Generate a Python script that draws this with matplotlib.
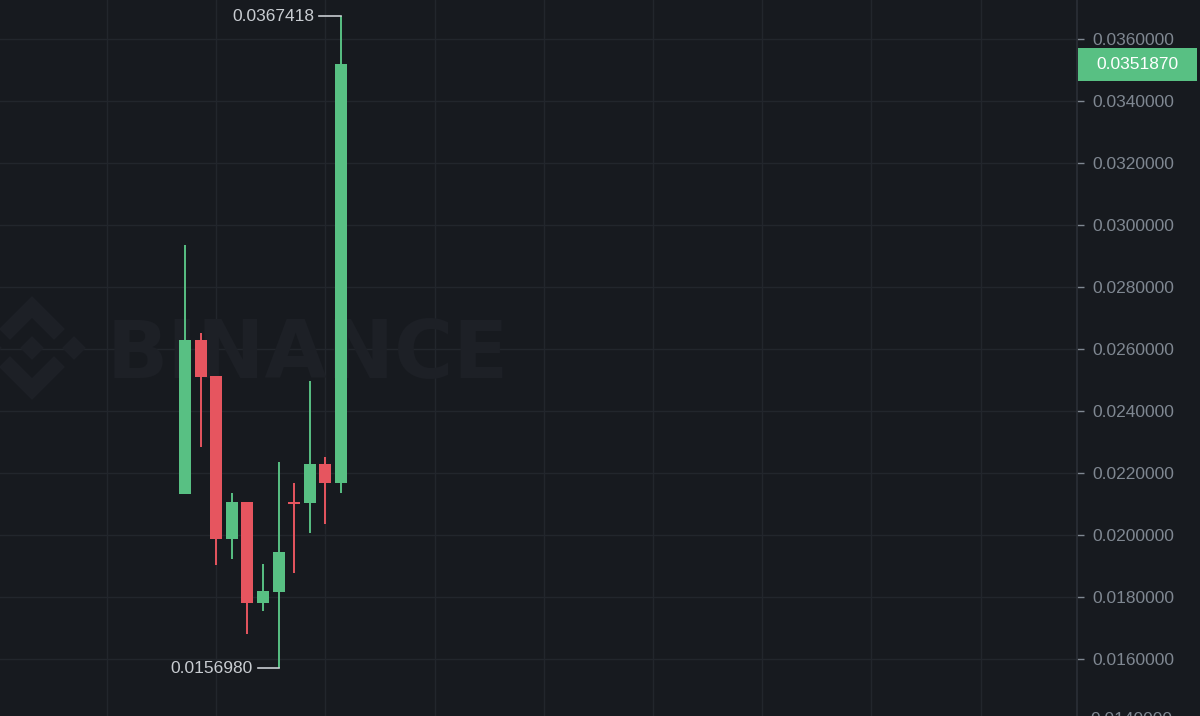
import matplotlib
matplotlib.use("Agg")
import matplotlib.pyplot as plt
import matplotlib.transforms as mtransforms
from matplotlib.patches import Rectangle, Polygon

# daily candles (index 0..10)
opens = [0.02132, 0.02629, 0.02513, 0.01987, 0.02106, 0.01781, 0.01816, 0.02106, 0.02103, 0.02229, 0.02168]
closes = [0.02629, 0.02510, 0.01987, 0.02106, 0.01781, 0.01819, 0.01945, 0.02100, 0.02229, 0.02168, 0.035187]
highs = [0.02936, 0.02652, 0.02513, 0.02136, 0.02106, 0.01907, 0.02236, 0.02168, 0.02497, 0.02252, 0.0367418]
lows = [0.02132, 0.02284, 0.01903, 0.01923, 0.01681, 0.01755, 0.015698, 0.01877, 0.02007, 0.02036, 0.02136]

price_ticks = [0.016, 0.018, 0.020, 0.022, 0.024, 0.026, 0.028, 0.030, 0.032, 0.034, 0.036]
last_price = 0.0351870

BG = "#171a1f"
GRID = "#22262c"
GREEN = "#58c083"
RED = "#e6555f"
LABEL = "#7f8791"

plt.rcParams['font.family'] = ['Liberation Sans', 'DejaVu Sans']

fig = plt.figure(figsize=(12, 7.16), dpi=100, facecolor=BG)
ax = fig.add_axes([0, 0, 1077 / 1200, 1])
ax.set_facecolor(BG)

# watermark (logo + text), placed in figure pixels but drawn inside the axes, under the candles
wm = "#1d2026"
px = lambda x, y: (x / 1200, 1 - y / 716)
cx, cy = 32, 348
def diamond(x0, y0, r):
    return [px(cx + x0, cy - y0 - r), px(cx + x0 + r, cy - y0), px(cx + x0, cy - y0 + r), px(cx + x0 - r, cy - y0)]
for shape in [diamond(0, 0, 11), diamond(42, 0, 11), diamond(-42, 0, 11)]:
    ax.add_patch(Polygon(shape, closed=True, color=wm, transform=fig.transFigure, zorder=1))
for s in (1, -1):
    pts = [(-32, 19), (0, 51), (32, 19), (22, 9), (0, 31), (-22, 9)]
    chev = [px(cx + a, cy - s * b) for a, b in pts]
    ax.add_patch(Polygon(chev, closed=True, color=wm, transform=fig.transFigure, zorder=1))
ax.text(107 / 1200, 1 - 378 / 716, "BINANCE", transform=fig.transFigure, family="DejaVu Sans",
        weight="bold", fontsize=58, color=wm, va="baseline", ha="left", zorder=1)

# candles
for i in range(len(opens)):
    o, c, h, l = opens[i], closes[i], highs[i], lows[i]
    col = GREEN if c >= o else RED
    ax.vlines(i, l, h, color=col, linewidth=1.4, zorder=3)
    bottom = min(o, c)
    height = max(abs(c - o), 0.00007)
    ax.add_patch(Rectangle((i - 0.39, bottom), 0.78, height, facecolor=col, edgecolor="none", zorder=4))

# high / low markers
ih = highs.index(max(highs))
il = lows.index(min(lows))
ax.plot([ih - 1.4, ih], [highs[ih], highs[ih]], color="#c8ccd1", linewidth=1.2, zorder=5)
ax.text(ih - 1.7, highs[ih], f"{highs[ih]:.7f}", ha="right", va="center", color="#c8ccd1", fontsize=12.5, zorder=5)
ax.plot([il - 1.3, il], [lows[il], lows[il]], color="#c8ccd1", linewidth=1.2, zorder=5)
ax.text(il - 1.65, lows[il], f"{lows[il]:.7f}", ha="right", va="center", color="#c8ccd1", fontsize=12.5, zorder=5)

ax.set_xlim(-11.86, 57.18)
ax.set_ylim(0.014161, 0.037258)

ax.set_xticks([-5, 2, 9, 16, 23, 30, 37, 44, 51])
ax.set_xticklabels([])
ax.tick_params(axis="x", length=0)
ax.set_yticks(price_ticks)
ax.set_yticklabels([f"{v:.7f}" for v in price_ticks])
ax.yaxis.tick_right()
ax.tick_params(axis="y", colors=LABEL, labelsize=12.5, length=5, width=1, pad=6)
ax.grid(True, color=GRID, linewidth=1, zorder=0)
ax.set_axisbelow(True)
for side in ["top", "left", "bottom"]:
    ax.spines[side].set_visible(False)
ax.spines["right"].set_color("#2b2f36")
ax.spines["right"].set_linewidth(1.2)

# partly cut-off label below the visible range (cut in the reference too)
fig.text(1090 / 1200, 1 - 720 / 716, "0.0140000", color=LABEL, fontsize=12.5, va="center", ha="left")

# last price box
tr = mtransforms.blended_transform_factory(fig.transFigure, ax.transData)
box_h = 33 / 31000
fig.patches.append(Rectangle((1078 / 1200, last_price - box_h / 2), 119 / 1200, box_h,
                             facecolor=GREEN, edgecolor="none", transform=tr, zorder=6))
fig.text(1137 / 1200, last_price, f"{last_price:.7f}", transform=tr, color="white", fontsize=12.5,
         ha="center", va="center", zorder=7)

fig.savefig("out.png", dpi=100, facecolor=BG)
